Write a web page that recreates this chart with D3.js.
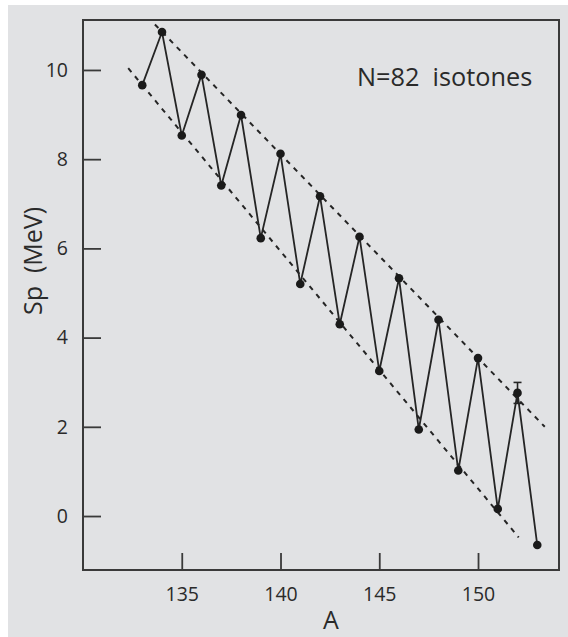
<!DOCTYPE html>
<html>
<head>
<meta charset="utf-8">
<script src="https://cdn.jsdelivr.net/npm/d3@7"></script>
<style>
  html, body { margin: 0; padding: 0; background: #ffffff; }
  svg { display: block; }
  text { font-family: "Open Sans", "Noto Sans", sans-serif; fill: #2a2a2a; }
</style>
</head>
<body>
<svg id="chart" width="568" height="637"></svg>
<script>
// Proton separation energies of the N=82 isotones
const massNumbers = [133, 134, 135, 136, 137, 138, 139, 140, 141, 142, 143,
                     144, 145, 146, 147, 148, 149, 150, 151, 152, 153];
const spValues = [9.66, 10.85, 8.53, 9.89, 7.41, 8.99, 6.23, 8.12, 5.20, 7.17, 4.30,
                  6.26, 3.25, 5.33, 1.94, 4.40, 1.02, 3.54, 0.16, 2.76, -0.65];
// uncertainty shown as an error bar (A, ±MeV)
const errorBars = [{ a: 152, err: 0.235 }];
// dashed envelope lines through the even-A and odd-A points
const upperEnvelope = [[133.64, 11.02], [153.38, 2.00]];
const lowerEnvelope = [[132.29, 10.04], [152.06, -0.48]];
const xTicks = [135, 140, 145, 150];
const yTicks = [0, 2, 4, 6, 8, 10];
const chartTitle = "N=82\u00a0\u00a0isotones";

const svg = d3.select("#chart");
const W = 568, H = 637;
const plot = { left: 83, top: 20, right: 559, bottom: 570 };

// panel background
svg.append("rect").attr("x", 8).attr("y", 5).attr("width", W - 8).attr("height", H - 5)
  .attr("fill", "#e1e2e4");

const x = d3.scaleLinear().domain([130, 154.1]).range([plot.left, plot.right]);
const y = d3.scaleLinear().domain([-1.21, 11.12]).range([plot.bottom, plot.top]);

const ink = "#252525";

// frame
svg.append("rect")
  .attr("x", plot.left).attr("y", plot.top)
  .attr("width", plot.right - plot.left).attr("height", plot.bottom - plot.top)
  .attr("fill", "none").attr("stroke", "#3a3a3a").attr("stroke-width", 2);

// y axis: inward ticks, labels on the left
const yAxis = d3.axisLeft(y).tickValues(yTicks).tickSize(-18).tickPadding(15).tickFormat(d3.format("d"));
const gy = svg.append("g").attr("transform", `translate(${plot.left},0)`).call(yAxis);
gy.select(".domain").remove();
gy.selectAll(".tick line").attr("stroke", "#3a3a3a").attr("stroke-width", 1.8);
gy.selectAll(".tick text").attr("font-size", 19.5).attr("fill", "#2a2a2a")
  .attr("font-family", "'Open Sans', sans-serif");

// x axis: inward ticks, labels below
const xAxis = d3.axisBottom(x).tickValues(xTicks).tickSize(-17).tickPadding(17).tickFormat(d3.format("d"));
const gx = svg.append("g").attr("transform", `translate(0,${plot.bottom})`).call(xAxis);
gx.select(".domain").remove();
gx.selectAll(".tick line").attr("stroke", "#3a3a3a").attr("stroke-width", 1.8);
gx.selectAll(".tick text").attr("font-size", 19.5).attr("fill", "#2a2a2a")
  .attr("font-family", "'Open Sans', sans-serif");

// axis titles
svg.append("text").attr("x", 331).attr("y", 629).attr("text-anchor", "middle")
  .attr("font-size", 25).text("A");
svg.append("text").attr("transform", "translate(42,261) rotate(-90)")
  .attr("text-anchor", "middle").attr("font-size", 25).text("Sp\u00a0\u00a0(MeV)");

// series title
svg.append("text").attr("x", 357).attr("y", 86).attr("font-size", 25.3).text(chartTitle);

const line = d3.line().x(d => x(d[0])).y(d => y(d[1]));

// envelopes
[upperEnvelope, lowerEnvelope].forEach(env => {
  svg.append("path").attr("d", line(env)).attr("fill", "none")
    .attr("stroke", ink).attr("stroke-width", 2).attr("stroke-dasharray", "5,5.5");
});

// staggered Sp line
const pts = massNumbers.map((a, i) => [a, spValues[i]]);
svg.append("path").attr("d", line(pts)).attr("fill", "none")
  .attr("stroke", ink).attr("stroke-width", 1.8).attr("stroke-linejoin", "miter");

// error bars
errorBars.forEach(e => {
  const v = spValues[massNumbers.indexOf(e.a)];
  const cx = x(e.a), y1 = y(v + e.err), y2 = y(v - e.err);
  const g = svg.append("g").attr("stroke", ink).attr("stroke-width", 1.6);
  g.append("line").attr("x1", cx).attr("x2", cx).attr("y1", y1).attr("y2", y2);
  g.append("line").attr("x1", cx - 4).attr("x2", cx + 4).attr("y1", y1).attr("y2", y1);
  g.append("line").attr("x1", cx - 4).attr("x2", cx + 4).attr("y1", y2).attr("y2", y2);
});

// data points
svg.append("g").selectAll("circle").data(pts).join("circle")
  .attr("cx", d => x(d[0])).attr("cy", d => y(d[1])).attr("r", 4.3)
  .attr("fill", "#1a1a1a");
</script>
</body>
</html>
